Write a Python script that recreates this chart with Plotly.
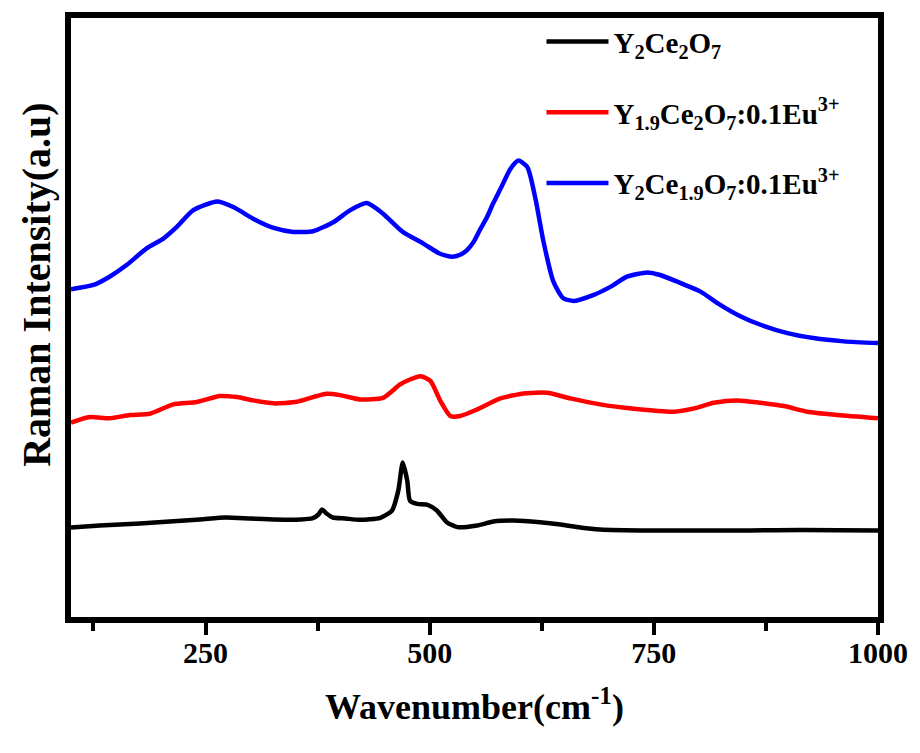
import plotly.graph_objects as go

# Wavenumber (cm^-1) and Raman intensity (a.u.)
wn_black = [100, 132, 177, 210, 244, 272, 300, 328, 356, 369, 376, 380, 385, 392, 406, 422, 445, 458, 465,
            470, 475, 478, 486, 497, 508, 519, 531, 553, 571, 594, 623, 646, 668, 690, 746, 802, 858, 914, 1000]
int_black = [90, 92, 94, 96, 98, 100, 99, 98, 98, 99, 103, 108, 104, 100, 99, 97.7, 99.7, 107, 127,
             155.3, 137, 117, 113.7, 113, 107, 95.3, 90.3, 92, 96, 97, 95.3, 93, 90, 88, 87, 87, 87, 87.5, 87]

wn_red = [100, 121, 143, 166, 188, 214, 240, 266, 285, 303, 326, 352, 370, 385, 400, 422, 448, 467, 478,
          490, 501, 512, 523, 534, 553, 579, 605, 631, 657, 690, 728, 772, 795, 817, 843, 869, 895, 921, 955, 1000]
int_red = [195.3, 201, 199.7, 203, 204.3, 213.7, 216, 222, 221, 217.7, 214.7, 216.3, 221, 224.3, 223, 218.7,
           220.3, 233.7, 238.7, 242, 237, 217, 202, 202, 208.7, 219.7, 224.7, 225.3, 219.7, 213.7, 209.3,
           206.3, 209.7, 215.3, 217.7, 215.3, 212, 206.3, 203, 199.7]

wn_blue = [100, 125, 143, 162, 184, 203, 218, 236, 263, 281, 303, 326, 348, 370, 393, 411, 430, 448, 470,
           493, 511, 525, 534, 542, 549, 556, 564, 571, 579, 590, 599, 609, 618, 627, 638, 649, 661, 683, 702,
           720, 743, 757, 776, 802, 824, 847, 869, 899, 928, 962, 1000]
int_blue = [329.3, 333.7, 342, 353.7, 370.3, 380.3, 392, 408.7, 417.7, 412, 400.3, 391, 387, 387.7, 397,
            408.7, 416, 405.3, 387, 375.3, 365.3, 362, 364, 369, 377, 389, 402, 416, 430.3, 450.3, 458.7, 452,
            420.3, 377, 337, 320.3, 317.7, 323.7, 332, 342, 346.3, 343.7, 337, 327, 313.7, 302, 293.7,
            285.3, 280.3, 277, 275.3]

names = ["Y<sub>2</sub>Ce<sub>2</sub>O<sub>7</sub>",
         "Y<sub>1.9</sub>Ce<sub>2</sub>O<sub>7</sub>:0.1Eu<sup>3+</sup>",
         "Y<sub>2</sub>Ce<sub>1.9</sub>O<sub>7</sub>:0.1Eu<sup>3+</sup>"]
colors = ["#000000", "#ff0000", "#0000ff"]

FONT = "Liberation Serif"

fig = go.Figure()
for i, (x, y) in enumerate([(wn_black, int_black), (wn_red, int_red), (wn_blue, int_blue)]):
    fig.add_trace(go.Scatter(x=x, y=y, mode="lines", name=names[i], legendgroup=str(i),
                             line=dict(color=colors[i], width=4.5, shape="spline", smoothing=0.6)))

fig.update_layout(
    width=920, height=753,
    margin=dict(l=71, r=41, t=15, b=136),
    plot_bgcolor="white", paper_bgcolor="white",
    showlegend=True,
    legend=dict(x=0.583, y=1.003, xanchor="left", yanchor="top",
                font=dict(family=FONT, size=29, color="black", weight="bold"),
                bgcolor="rgba(0,0,0,0)", tracegroupgap=30, itemwidth=62),
    xaxis=dict(range=[100, 1000], tick0=0, dtick=250, ticks="outside", ticklen=12, tickwidth=4,
               tickcolor="black", showline=True, linewidth=6, linecolor="black", mirror=True,
               showgrid=False, zeroline=False, ticklabelstandoff=-8,
               tickfont=dict(family=FONT, size=30, color="black", weight="bold"),
               minor=dict(dtick=125, ticks="outside", ticklen=8, tickwidth=4, tickcolor="black"),
               title=dict(text="Wavenumber(cm<sup>-1</sup>)", standoff=28,
                          font=dict(family=FONT, size=36, color="black", weight="bold"))),
    yaxis=dict(range=[0, 602], showticklabels=False, ticks="", showline=True, linewidth=6,
               linecolor="black", mirror=True, showgrid=False, zeroline=False),
    annotations=[dict(text="Raman Intensity(a.u)", textangle=-90, xref="paper", yref="paper",
                      x=-0.043, y=0.555, xanchor="center", yanchor="middle", showarrow=False,
                      font=dict(family=FONT, size=40, color="black", weight="bold"))],
)

fig.write_html("out.html")
